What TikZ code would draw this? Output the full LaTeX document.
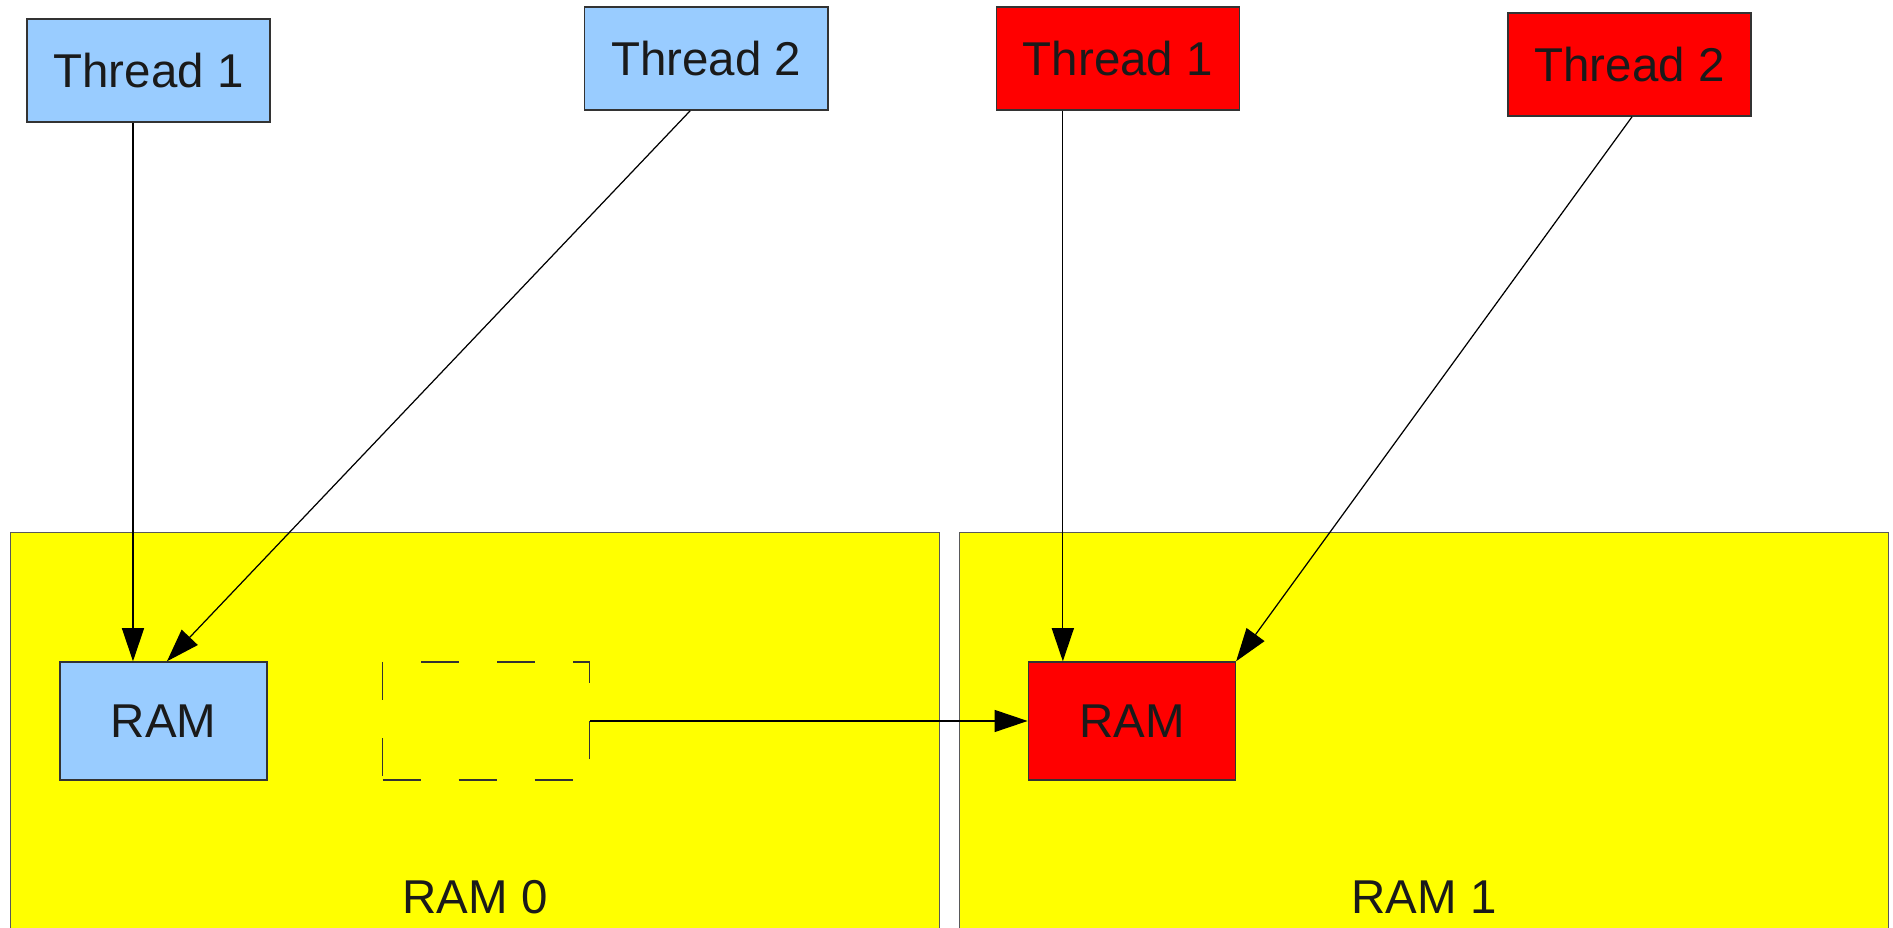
\documentclass[tikz,border=0pt]{standalone}
\usepackage{fontspec}
\setmainfont{Liberation Sans}
\usetikzlibrary{positioning}
\usetikzlibrary{arrows.meta}
\definecolor{threadblue}{HTML}{99CCFF}
\definecolor{threadred}{HTML}{FF0000}
\definecolor{areayellow}{HTML}{FFFF00}
\definecolor{inktext}{HTML}{1A1A1A}
\tikzset{x=0.01cm, y=-0.01cm, % One unit is one pixel of the original drawing
      every node/.style={ % Sets the font for all labels
      font=\fontsize{13.5}{16}\selectfont,
      text=inktext},
      thread/.style={ % Boxes for the threads
      draw=black!80, line width=0.4pt,
      minimum width=2.43cm, minimum height=1.03cm, inner sep=0pt},
      memory/.style={ % The small RAM boxes
      draw=black!80, line width=0.4pt,
      minimum width=2.07cm, minimum height=1.18cm, inner sep=0pt},
      ghost/.style={ % Moved RAM, only the outline is left
      memory, dash pattern=on 0.38cm off 0.38cm},
      region/.style={ % Large yellow areas
      draw=black!65, line width=0.4pt, fill=areayellow,
      minimum width=9.28cm, minimum height=4.1cm, anchor=north west},
      link/.style={ % Sets the properties for each connector
      draw, line width=0.35pt,
      -{Triangle[length=0.33cm, width=0.22cm]}}}

\begin{document}
\begin{tikzpicture}
      \useasboundingbox (0,0) rectangle (1893,928);
      \clip (0,0) rectangle (1893,928);
      % memory areas
      \node[region] (ram0) at (10,532) {};
      \node[region] (ram1) at (959,532) {};
      \node (lbl0) at ([yshift=0.46cm]ram0.south) {RAM 0};
      \node (lbl1) at ([yshift=0.46cm]ram1.south) {RAM 1};
      % threads
      \node[thread, fill=threadblue] (t1a) at (148.5,70.5) {Thread 1};
      \node[thread, fill=threadblue, right=3.13cm of t1a, yshift=0.12cm] (t2a) {Thread 2};
      \node[thread, fill=threadred, right=1.67cm of t2a] (t1b) {Thread 1};
      \node[thread, fill=threadred, right=2.67cm of t1b, yshift=-0.06cm] (t2b) {Thread 2};
      % RAM boxes
      \node[memory, fill=threadblue] (rama) at (163.5,721) {RAM};
      \node[ghost, right=1.14cm of rama] (moved) {};
      \node[memory, fill=threadred, right=4.37cm of moved] (ramb) {RAM};
      % connectors
      \coordinate (d1) at ([xshift=-0.155cm]t1a.south);
      \coordinate (d2) at ([xshift=-0.55cm]t1b.south);
      \draw[link] (d1) -- (d1 |- rama.north);
      \draw[link] ([xshift=-0.16cm]t2a.south) -- ([xshift=0.035cm]rama.north);
      \draw[link] (d2) -- (d2 |- ramb.north);
      \draw[link] ([xshift=0.025cm]t2b.south) -- (ramb.north east);
      \draw[link] (moved.east) -- (ramb.west);
\end{tikzpicture}
\end{document}
